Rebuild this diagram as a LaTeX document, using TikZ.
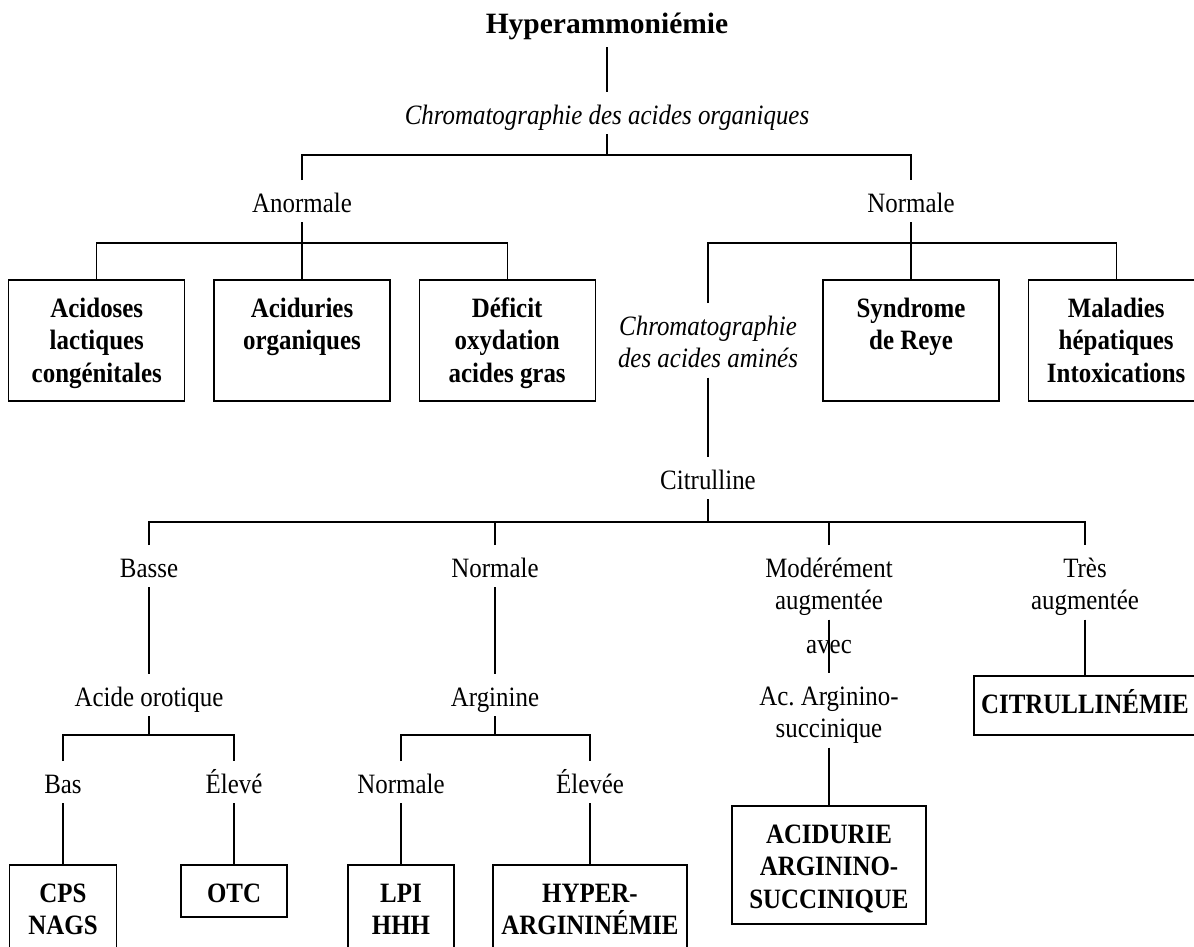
\documentclass[tikz,border=0pt]{standalone}
\usepackage{fontspec}
\setmainfont[FakeStretch=0.89]{Liberation Serif}
\newfontfamily\titlefont{Liberation Serif}
\usetikzlibrary{positioning}

\begin{document}
\begin{tikzpicture}[
        line width=1.1pt,
        root/.style={font=\titlefont\fontsize{29.5pt}{35pt}\selectfont\bfseries, inner sep=0pt, text height=22pt, text depth=10pt, outer ysep=4pt, anchor=base},
        crit/.style={font=\fontsize{28pt}{32.5pt}\selectfont, align=flush center, inner sep=0pt, text height=28pt, text depth=6pt, outer ysep=4pt, anchor=base},
        twolines/.style={text width=230pt, text depth=38.5pt},
        chrom/.style={crit, font=\fontsize{28pt}{32.5pt}\selectfont\itshape},
        diag/.style={draw, line width=1.2pt, font=\fontsize{28pt}{32.5pt}\selectfont\bfseries, align=flush center, inner sep=0pt, text width=#1, text height=37pt, anchor=base},
        diag/.default=176pt,
    ]

    \useasboundingbox (0,0) rectangle (1194pt,-946pt);

    % Racine
    \node[root] (hyper) at (607pt,-33pt) {Hyperammoniémie};
    \node[below=91pt of hyper.base, chrom] (chromoa) {Chromatographie des acides organiques};
    \coordinate[below=31pt of chromoa.base] (bus1);

    % Acides organiques
    \node[below=88pt of chromoa.base, xshift=-305pt, crit] (anormale) {Anormale};
    \node[below=88pt of chromoa.base, xshift=304pt, crit] (normale) {Normale};
    \coordinate[below=31pt of anormale.base] (bus2);
    \coordinate[below=31pt of normale.base] (bus3);

    \node[below=105pt of anormale.base, diag, text depth=84pt] (acidorg) {Aciduries\\organiques};
    \node[diag, text depth=84pt, left=28pt of acidorg] (lact) {Acidoses\\lactiques\\congénitales};
    \node[diag, text depth=84pt, right=28pt of acidorg] (deficit) {Déficit\\oxydation\\acides gras};

    \node[below=105pt of normale.base, diag, text depth=84pt] (reye) {Syndrome\\de Reye};
    \node[diag, text depth=84pt, right=28pt of reye] (hepat) {Maladies\\hépatiques\\Intoxications};

    % Acides amines
    \node[below=123pt of normale.base, xshift=-203pt, chrom, twolines] (chromaa) {Chromatographie\\des acides aminés};
    \node[below=154pt of chromaa.base, crit] (citrul) {Citrulline};
    \coordinate[below=33pt of citrul.base] (bus4);

    \node[below=88pt of citrul.base, xshift=-559pt, crit] (basse) {Basse};
    \node[below=88pt of citrul.base, xshift=-213pt, crit] (normcit) {Normale};
    \node[below=88pt of citrul.base, xshift=121pt, crit, twolines] (moder) {Modérément\\augmentée};
    \node[below=88pt of citrul.base, xshift=377pt, crit, twolines] (tres) {Très\\augmentée};

    % Citrulline basse
    \node[below=129pt of basse.base, crit] (orot) {Acide orotique};
    \coordinate[below=29pt of orot.base] (bus5);
    \node[below=87pt of orot.base, xshift=-86pt, crit] (bas) {Bas};
    \node[below=87pt of orot.base, xshift=85pt, crit] (eleve) {Élevé};
    \node[below=109pt of bas.base, diag=107pt, text depth=50pt] (cps) {CPS\\NAGS};
    \node[below=109pt of eleve.base, diag=106pt, text depth=15pt] (otc) {OTC};

    % Citrulline normale
    \node[below=129pt of normcit.base, crit] (argin) {Arginine};
    \coordinate[below=29pt of argin.base] (bus6);
    \node[below=87pt of argin.base, xshift=-94pt, crit] (normarg) {Normale};
    \node[below=87pt of argin.base, xshift=95pt, crit] (elevee) {Élevée};
    \node[below=109pt of normarg.base, diag=106pt, text depth=50pt] (lpi) {LPI\\HHH};
    \node[below=109pt of elevee.base, diag=194pt, text depth=50pt] (hyperarg) {HYPER-\\ARGININÉMIE};

    % Citrulline augmentee
    \node[below=76pt of moder.base, crit] (avec) {avec};
    \node[below=128pt of moder.base, crit, twolines] (asa) {Ac.\ Arginino-\\succinique};
    \node[below=138pt of asa.base, diag=194pt, text depth=81pt] (acidurie) {ACIDURIE\\ARGININO-\\SUCCINIQUE};
    \node[below=136pt of tres.base, diag=222pt, text depth=22pt] (citrem) {CITRULLINÉMIE};

    % Liaisons
    \draw (hyper.south) -- (chromoa.north);
    \draw (chromoa.south) -- (bus1);
    \draw (anormale.north) |- (bus1) -| (normale.north);
    \draw (anormale.south) -- (acidorg.north);
    \draw (lact.north) |- (bus2) -| (deficit.north);
    \draw (normale.south) -- (reye.north);
    \draw (chromaa.north) |- (bus3) -| (hepat.north);
    \draw (chromaa.south) -- (citrul.north);
    \draw (citrul.south) -- (bus4);
    \draw (basse.north) |- (bus4) -| (tres.north);
    \draw (normcit.north) -- (normcit.north |- bus4);
    \draw (moder.north) -- (moder.north |- bus4);
    \draw (basse.south) -- (orot.north);
    \draw (normcit.south) -- (argin.north);
    \draw (moder.south) -- (asa.north);
    \draw (tres.south) -- (citrem.north);
    \draw (orot.south) -- (bus5);
    \draw (bas.north) |- (bus5) -| (eleve.north);
    \draw (argin.south) -- (bus6);
    \draw (normarg.north) |- (bus6) -| (elevee.north);
    \draw (bas.south) -- (cps.north);
    \draw (eleve.south) -- (otc.north);
    \draw (normarg.south) -- (lpi.north);
    \draw (elevee.south) -- (hyperarg.north);
    \draw (asa.south) -- (acidurie.north);

\end{tikzpicture}
\end{document}
